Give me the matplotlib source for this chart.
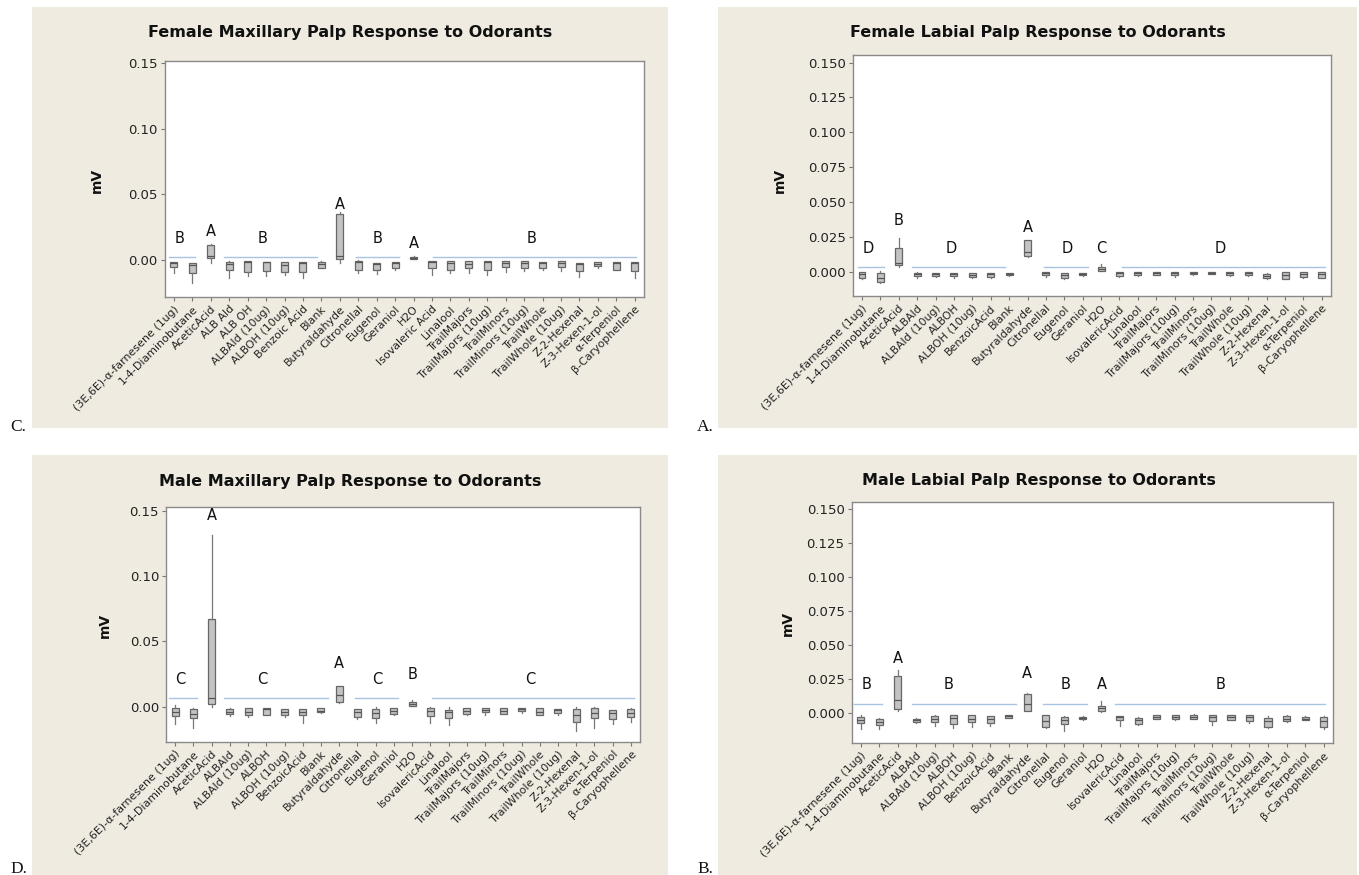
import matplotlib
matplotlib.use("Agg")
import matplotlib.pyplot as plt
from matplotlib.patches import Rectangle

W, H = 1359, 875

# ---------------- categories ----------------
odorants_fmax = ["(3E,6E)-α-farnesene (1ug)", "1-4-Diaminobutane", "AceticAcid", "ALB Ald", "ALB OH",
                 "ALBAld (10ug)", "ALBOH (10ug)", "Benzoic Acid", "Blank", "Butyraldahyde", "Citronellal",
                 "Eugenol", "Geraniol", "H2O", "Isovaleric Acid", "Linalool", "TrailMajors",
                 "TrailMajors (10ug)", "TrailMinors", "TrailMinors (10ug)", "TrailWhole", "TrailWhole (10ug)",
                 "Z-2-Hexenal", "Z-3-Hexen-1-ol", "α-Terpeniol", "β-Caryophellene"]
odorants = ["(3E,6E)-α-farnesene (1ug)", "1-4-Diaminobutane", "AceticAcid", "ALBAld", "ALBAld (10ug)",
            "ALBOH", "ALBOH (10ug)", "BenzoicAcid", "Blank", "Butyraldahyde", "Citronellal",
            "Eugenol", "Geraniol", "H2O", "IsovalericAcid", "Linalool", "TrailMajors",
            "TrailMajors (10ug)", "TrailMinors", "TrailMinors (10ug)", "TrailWhole", "TrailWhole (10ug)",
            "Z-2-Hexenal", "Z-3-Hexen-1-ol", "α-Terpeniol", "β-Caryophellene"]

# ---------------- Female maxillary (C) ----------------
fmax_lo  = [-0.0094, -0.0177, -0.0020, -0.0132, -0.0119, -0.0121, -0.0109, -0.0139, -0.0063, -0.0025,
            -0.0094, -0.0104, -0.0071, 0.0008, -0.0114, -0.0101, -0.0094, -0.0114, -0.0089, -0.0083,
            -0.0071, -0.0083, -0.0127, -0.0063, -0.0076, -0.0134]
fmax_q1  = [-0.0055, -0.0100, 0.0013, -0.0071, -0.0089, -0.0083, -0.0089, -0.0089, -0.0058, 0.0008,
            -0.0071, -0.0071, -0.0063, 0.0010, -0.0063, -0.0071, -0.0058, -0.0071, -0.0051, -0.0056,
            -0.0063, -0.0051, -0.0083, -0.0043, -0.0071, -0.0083]
fmax_med = [-0.0025, -0.0040, 0.0033, -0.0030, -0.0010, -0.0015, -0.0040, -0.0020, -0.0030, 0.0033,
            -0.0010, -0.0030, -0.0020, 0.0020, -0.0010, -0.0020, -0.0028, -0.0010, -0.0025, -0.0025,
            -0.0020, -0.0025, -0.0030, -0.0028, -0.0020, -0.0020]
fmax_q3  = [-0.0015, -0.0025, 0.0119, -0.0013, -0.0005, -0.0010, -0.0013, -0.0015, -0.0015, 0.0355,
            -0.0008, -0.0020, -0.0013, 0.0028, -0.0005, -0.0008, -0.0008, -0.0008, -0.0008, -0.0003,
            -0.0010, -0.0008, -0.0025, -0.0013, -0.0013, -0.0013]
fmax_hi  = [-0.0015, -0.0020, 0.0120, -0.0005, -0.0005, -0.0010, -0.0013, -0.0015, -0.0008, 0.0367,
            0.0005, -0.0020, -0.0013, 0.0035, -0.0005, -0.0008, -0.0008, -0.0008, -0.0008, -0.0003,
            -0.0010, -0.0008, -0.0020, -0.0013, -0.0013, -0.0013]

# ---------------- Female labial (A) ----------------
flab_lo  = [-0.0055, -0.0079, 0.0031, -0.0043, -0.0038, -0.0043, -0.0045, -0.0048, -0.0029, 0.0103,
            -0.0036, -0.0050, -0.0029, 0.0002, -0.0038, -0.0029, -0.0026, -0.0036, -0.0022, -0.0020,
            -0.0031, -0.0031, -0.0050, -0.0055, -0.0043, -0.0045]
flab_q1  = [-0.0048, -0.0072, 0.0048, -0.0031, -0.0031, -0.0031, -0.0041, -0.0036, -0.0022, 0.0113,
            -0.0024, -0.0043, -0.0024, 0.0007, -0.0031, -0.0024, -0.0024, -0.0024, -0.0017, -0.0017,
            -0.0022, -0.0022, -0.0048, -0.0050, -0.0041, -0.0043]
flab_med = [-0.0020, -0.0048, 0.0065, -0.0020, -0.0020, -0.0015, -0.0025, -0.0020, -0.0015, 0.0144,
            -0.0012, -0.0025, -0.0015, 0.0022, -0.0010, -0.0012, -0.0012, -0.0012, -0.0008, -0.0008,
            -0.0012, -0.0012, -0.0030, -0.0025, -0.0020, -0.0020]
flab_q3  = [-0.0005, -0.0012, 0.0167, -0.0012, -0.0010, -0.0007, -0.0007, -0.0007, -0.0007, 0.0225,
            -0.0005, -0.0007, -0.0007, 0.0036, -0.0002, -0.0002, -0.0002, -0.0005, 0.0000, 0.0000,
            -0.0005, -0.0005, -0.0014, -0.0002, -0.0005, -0.0002]
flab_hi  = [-0.0002, 0.0007, 0.0239, -0.0005, -0.0010, -0.0007, -0.0007, -0.0007, -0.0007, 0.0227,
            -0.0005, -0.0007, -0.0007, 0.0053, -0.0002, -0.0002, -0.0002, -0.0005, 0.0000, 0.0000,
            -0.0005, -0.0005, -0.0007, -0.0002, -0.0005, -0.0002]

# ---------------- Male maxillary (D) ----------------
mmax_lo  = [-0.0135, -0.0160, 0.0000, -0.0069, -0.0077, -0.0066, -0.0082, -0.0122, -0.0048, 0.0030,
            -0.0097, -0.0128, -0.0066, 0.0005, -0.0128, -0.0143, -0.0061, -0.0061, -0.0056, -0.0046,
            -0.0066, -0.0066, -0.0184, -0.0160, -0.0135, -0.0115]
mmax_q1  = [-0.0069, -0.0089, 0.0018, -0.0059, -0.0061, -0.0061, -0.0061, -0.0066, -0.0043, 0.0036,
            -0.0077, -0.0089, -0.0056, 0.0005, -0.0071, -0.0089, -0.0056, -0.0043, -0.0056, -0.0033,
            -0.0061, -0.0051, -0.0115, -0.0089, -0.0094, -0.0082]
mmax_med = [-0.0043, -0.0056, 0.0064, -0.0040, -0.0040, -0.0020, -0.0040, -0.0041, -0.0030, 0.0089,
            -0.0040, -0.0051, -0.0030, 0.0020, -0.0033, -0.0040, -0.0030, -0.0025, -0.0030, -0.0020,
            -0.0040, -0.0025, -0.0066, -0.0048, -0.0048, -0.0051]
mmax_q3  = [-0.0013, -0.0020, 0.0669, -0.0018, -0.0013, -0.0008, -0.0015, -0.0015, -0.0010, 0.0158,
            -0.0018, -0.0020, -0.0010, 0.0038, -0.0013, -0.0028, -0.0010, -0.0010, -0.0010, -0.0010,
            -0.0010, -0.0015, -0.0020, -0.0013, -0.0028, -0.0018]
mmax_hi  = [0.0010, -0.0008, 0.1315, -0.0013, -0.0013, -0.0008, -0.0015, -0.0015, -0.0010, 0.0160,
            -0.0018, -0.0005, -0.0010, 0.0051, -0.0005, -0.0005, -0.0010, -0.0010, -0.0010, -0.0010,
            -0.0010, -0.0015, -0.0005, 0.0000, -0.0028, -0.0010]

# ---------------- Male labial (B) ----------------
mlab_lo  = [-0.0115, -0.0118, 0.0015, -0.0074, -0.0091, -0.0105, -0.0103, -0.0091, -0.0037, 0.0015,
            -0.0105, -0.0127, -0.0049, 0.0012, -0.0091, -0.0083, -0.0039, -0.0049, -0.0039, -0.0086,
            -0.0051, -0.0069, -0.0105, -0.0064, -0.0049, -0.0118]
mlab_q1  = [-0.0074, -0.0086, 0.0029, -0.0061, -0.0064, -0.0081, -0.0066, -0.0074, -0.0034, 0.0020,
            -0.0098, -0.0078, -0.0044, 0.0020, -0.0049, -0.0081, -0.0039, -0.0039, -0.0039, -0.0056,
            -0.0051, -0.0056, -0.0103, -0.0059, -0.0049, -0.0098]
mlab_med = [-0.0049, -0.0064, 0.0098, -0.0050, -0.0040, -0.0037, -0.0039, -0.0040, -0.0020, 0.0066,
            -0.0056, -0.0049, -0.0037, 0.0037, -0.0030, -0.0050, -0.0025, -0.0025, -0.0025, -0.0030,
            -0.0030, -0.0030, -0.0059, -0.0040, -0.0039, -0.0059]
mlab_q3  = [-0.0029, -0.0044, 0.0274, -0.0039, -0.0020, -0.0015, -0.0015, -0.0020, -0.0012, 0.0140,
            -0.0012, -0.0029, -0.0029, 0.0054, -0.0017, -0.0032, -0.0015, -0.0015, -0.0010, -0.0015,
            -0.0015, -0.0015, -0.0037, -0.0020, -0.0029, -0.0029]
mlab_hi  = [-0.0012, -0.0037, 0.0319, -0.0032, -0.0015, -0.0015, -0.0015, -0.0020, -0.0012, 0.0147,
            -0.0012, -0.0017, -0.0020, 0.0091, -0.0017, -0.0025, -0.0015, -0.0015, -0.0005, -0.0015,
            -0.0015, -0.0015, -0.0020, -0.0012, -0.0020, -0.0020]

# ---------------- grouping letters ----------------
fmax_letters = ["B", "A", "B", "A", "B", "A", "B"]
fmax_let_x = [0.3, 2.0, 4.8, 9.0, 11.06, 13.04, 19.4]
fmax_let_y = [0.0165, 0.0215, 0.0165, 0.0425, 0.0165, 0.0128, 0.0165]
fmax_spans = [(-0.27, 1.17), (2.69, 7.75), (9.86, 12.23), (14.06, 25.09)]
fmax_line_y = 0.0028

flab_letters = ["D", "B", "D", "A", "D", "C", "D"]
flab_let_x = [0.35, 2.0, 4.84, 9.0, 11.14, 13.0, 19.48]
flab_let_y = [0.0168, 0.0364, 0.0168, 0.0319, 0.0168, 0.0168, 0.0168]
flab_spans = [(-0.23, 1.2), (2.72, 7.8), (9.89, 12.27), (14.11, 25.18)]
flab_line_y = 0.0032

mmax_letters = ["C", "A", "C", "A", "C", "B", "C"]
mmax_let_x = [0.29, 2.0, 4.79, 9.0, 11.07, 13.0, 19.5]
mmax_let_y = [0.021, 0.146, 0.021, 0.0332, 0.021, 0.0248, 0.021]
mmax_spans = [(-0.31, 1.19), (2.67, 8.36), (9.87, 12.25), (14.09, 25.18)]
mmax_line_y = 0.0069

mlab_letters = ["B", "A", "B", "A", "B", "A", "B"]
mlab_let_x = [0.3, 2.0, 4.77, 9.0, 11.05, 13.03, 19.42]
mlab_let_y = [0.0213, 0.0404, 0.0213, 0.0289, 0.0213, 0.0213, 0.0213]
mlab_spans = [(-0.35, 1.17), (2.75, 8.37), (9.86, 12.2), (13.76, 25.07)]
mlab_line_y = 0.0071

titles = ["Female Maxillary Palp Response to Odorants", "Female Labial Palp Response to Odorants",
          "Male Maxillary Palp Response to Odorants", "Male Labial Palp Response to Odorants"]

BEIGE = "#efebe1"
fig = plt.figure(figsize=(W / 100, H / 100), dpi=100)
fig.patch.set_facecolor("white")


def px_rect(x0, y0, x1, y1):
    return [x0 / W, 1 - y1 / H, (x1 - x0) / W, (y1 - y0) / H]


for (x0, y0, x1, y1) in [(32, 7, 668, 428), (718, 7, 1357, 428), (32, 455, 668, 875), (718, 455, 1357, 875)]:
    fig.add_artist(Rectangle((x0 / W, 1 - y1 / H), (x1 - x0) / W, (y1 - y0) / H,
                             transform=fig.transFigure, facecolor=BEIGE, edgecolor="none", zorder=0))

panels = [
    dict(rect=px_rect(164.7, 61, 644, 297), ylim=(-0.028, 0.1515), yt=[0.0, 0.05, 0.10, 0.15], fmt="{:.2f}",
         names=odorants_fmax, data=(fmax_lo, fmax_q1, fmax_med, fmax_q3, fmax_hi),
         let=(fmax_letters, fmax_let_x, fmax_let_y), spans=fmax_spans, ly=fmax_line_y,
         title=titles[0], tpos=(350, 33), ylab=(97, 180), tag=("C.", 10, 431)),
    dict(rect=px_rect(852.8, 55, 1331, 296), ylim=(-0.0175, 0.1555),
         yt=[0.0, 0.025, 0.05, 0.075, 0.10, 0.125, 0.15], fmt="{:.3f}",
         names=odorants, data=(flab_lo, flab_q1, flab_med, flab_q3, flab_hi),
         let=(flab_letters, flab_let_x, flab_let_y), spans=flab_spans, ly=flab_line_y,
         title=titles[1], tpos=(1038, 33), ylab=(780, 180), tag=("A.", 697, 431)),
    dict(rect=px_rect(166, 507.3, 640, 741.7), ylim=(-0.0268, 0.1526), yt=[0.0, 0.05, 0.10, 0.15], fmt="{:.2f}",
         names=odorants, data=(mmax_lo, mmax_q1, mmax_med, mmax_q3, mmax_hi),
         let=(mmax_letters, mmax_let_x, mmax_let_y), spans=mmax_spans, ly=mmax_line_y,
         title=titles[2], tpos=(350, 482), ylab=(105, 625), tag=("D.", 10, 873)),
    dict(rect=px_rect(851.5, 502.3, 1332.8, 743.3), ylim=(-0.022, 0.1549),
         yt=[0.0, 0.025, 0.05, 0.075, 0.10, 0.125, 0.15], fmt="{:.3f}",
         names=odorants, data=(mlab_lo, mlab_q1, mlab_med, mlab_q3, mlab_hi),
         let=(mlab_letters, mlab_let_x, mlab_let_y), spans=mlab_spans, ly=mlab_line_y,
         title=titles[3], tpos=(1039, 480), ylab=(788, 623), tag=("B.", 697, 873)),
]

for p in panels:
    ax = fig.add_axes(p["rect"])
    ax.set_facecolor("white")
    lo, q1, med, q3, hi = p["data"]
    stats = [dict(whislo=lo[i], q1=q1[i], med=med[i], q3=q3[i], whishi=hi[i], fliers=[])
             for i in range(len(p["names"]))]
    ax.bxp(stats, positions=list(range(len(stats))), widths=0.38, patch_artist=True,
           showcaps=False, showfliers=False,
           boxprops=dict(facecolor="#c3c3c3", edgecolor="#666666", linewidth=0.9),
           medianprops=dict(color="#555555", linewidth=0.9),
           whiskerprops=dict(color="#777777", linewidth=0.9))
    for (a, b) in p["spans"]:
        ax.plot([a, b], [p["ly"], p["ly"]], color="#a9c3e3", lw=1.0, zorder=1)
    for t, x, y in zip(*p["let"]):
        ax.text(x, y, t, ha="center", va="center", fontsize=10.5, color="#111111")
    ax.set_xlim(-0.5, len(stats) - 0.5)
    ax.set_ylim(*p["ylim"])
    ax.set_yticks(p["yt"])
    ax.set_yticklabels([p["fmt"].format(v) for v in p["yt"]], fontsize=9.5, color="#222222")
    ax.set_xticks(range(len(stats)))
    ax.set_xticklabels(p["names"], rotation=45, ha="right", rotation_mode="anchor",
                       fontsize=7.9, color="#222222")
    ax.tick_params(axis="both", direction="out", length=3, width=0.8, color="#777777", pad=2)
    for s in ax.spines.values():
        s.set_color("#8a8a8a")
        s.set_linewidth(1.0)
    fig.text(p["tpos"][0] / W, 1 - p["tpos"][1] / H, p["title"], ha="center", va="center",
             fontsize=11.5, fontweight="bold", family="DejaVu Sans", color="#111111")
    fig.text(p["ylab"][0] / W, 1 - p["ylab"][1] / H, "mV", ha="center", va="center", rotation=90,
             fontsize=10, fontweight="bold", color="#111111")
    tag, tx, ty = p["tag"]
    fig.text(tx / W, 1 - ty / H, tag, ha="left", va="baseline", fontsize=12.5,
             family="Liberation Serif", color="#111111")

fig.savefig("out.png", dpi=100)
